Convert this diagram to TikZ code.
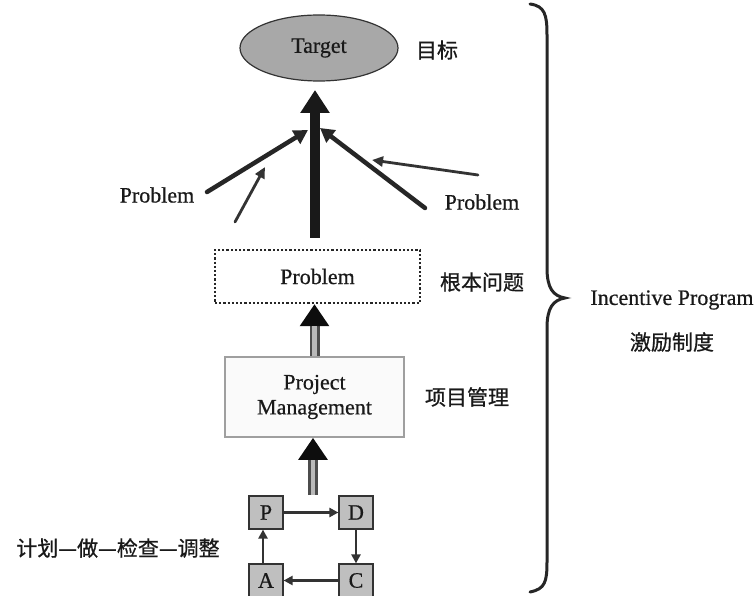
\documentclass[tikz,border=0pt]{standalone}
\usepackage{fontspec}
\setmainfont{Liberation Serif}[FakeBold=0.6]
\newfontfamily\cjk{Noto Sans CJK SC}[FakeBold=0.8]
\usetikzlibrary{arrows.meta,shapes.geometric}
\begin{document}
\begin{tikzpicture}[x=1pt,y=-1pt,
  every node/.style={font=\fontsize{22}{25}\selectfont, text=black!90},
  cnlabel/.style={font=\cjk\fontsize{21}{24}\selectfont},
  pdcabox/.style={draw=black!80, line width=1.2pt, fill=gray!50, minimum width=34pt, minimum height=33pt, inner sep=0pt},
  bigarrow/.style={line width=10pt, black!90, -{Triangle[width=28pt,length=23pt]}},
  thickarrow/.style={line width=4.5pt, black!85, line cap=round, -{Triangle[width=15pt,length=14pt]}},
  thinarrow/.style={line width=2.8pt, black!80, line cap=round, -{Triangle[width=10pt,length=11pt]}},
  cyclearrow/.style={line width=2.8pt, black!80, -{Triangle[width=9pt,length=9pt]}},
  grayshaft/.style={line width=10pt, black!70, -{Triangle[width=28pt,length=22pt,black!95]}},
  grayinner/.style={line width=4.5pt, gray!55, shorten >=22pt}
]
\useasboundingbox[fill=white] (0,0) rectangle (756,596);

% target
\node[ellipse, draw=black!80, line width=1.2pt, fill=gray!68, minimum width=158pt, minimum height=66pt, inner sep=0pt] (target) at (319,48) {Target};
\node[cnlabel] (targetcn) at (437,50) {目标};

% root problem
\node[draw=black!85, dotted, line width=2.2pt, minimum width=205pt, minimum height=53pt, inner sep=0pt] (prob) at (317.5,276.5) {Problem};
\node[cnlabel] (probcn) at (482,282) {根本问题};

% project management
\node[draw=gray!75, line width=1.5pt, fill=gray!4, minimum width=179pt, minimum height=80pt, align=center, inner sep=0pt] (pm) at (314.5,397) {Project\\Management};
\node[cnlabel] (pmcn) at (467,397) {项目管理};

% side problems
\node (probL) at (157,195) {Problem};
\node (probR) at (482,202) {Problem};

% PDCA
\node[pdcabox] (P) at (266,512.5) {P};
\node[pdcabox] (D) at (356,512.5) {D};
\node[pdcabox] (A) at (266,580.5) {A};
\node[pdcabox] (C) at (356,580.5) {C};
\node[cnlabel] (pdca) at (118,548) {计划—做—检查—调整};

% incentive program
\node (inc) at (672,300) {Incentive Program};
\node[cnlabel] (inccn) at (672,342) {激励制度};

% coordinates
\coordinate (bigS) at (315,238);
\coordinate (bigT) at (315,90);
\coordinate (lS) at (207,192);
\coordinate (lT) at (308,130);
\coordinate (rS) at (425,208);
\coordinate (rT) at (320,128);
\coordinate (tlS) at (235,222);
\coordinate (tlT) at (265,167);
\coordinate (trS) at (478,175);
\coordinate (trT) at (372,160);
\coordinate (pdcaTop) at (313,495);

% arrows to target
\draw[thickarrow] (lS) -- (lT);
\draw[thickarrow] (rS) -- (rT);
\draw[thinarrow] (tlS) -- (tlT);
\draw[thinarrow] (trS) -- (trT);
\draw[bigarrow] (bigS) -- (bigT);

% gray arrows
\draw[grayshaft] (pm.north) -- (pm.north |- prob.south);
\draw[grayinner] (pm.north) -- (pm.north |- prob.south);
\draw[grayshaft] (pdcaTop) -- (pdcaTop |- pm.south);
\draw[grayinner] (pdcaTop) -- (pdcaTop |- pm.south);

% PDCA cycle
\draw[cyclearrow] (P.east) -- (D.west);
\draw[cyclearrow] (D.south) -- (C.north);
\draw[cyclearrow] (C.west) -- (A.east);
\draw[cyclearrow] ([xshift=-3pt]A.north) -- ([xshift=-3pt]P.south);

% brace
\draw[line width=3pt, black!85, line cap=round]
  (530,4) .. controls (545,6) and (547,15) .. (547,35) -- (547,268)
  .. controls (547,288) and (553,296) .. (565,298)
  .. controls (553,300) and (547,308) .. (547,328) -- (547,562)
  .. controls (547,582) and (545,589) .. (530,592);
\end{tikzpicture}
\end{document}
